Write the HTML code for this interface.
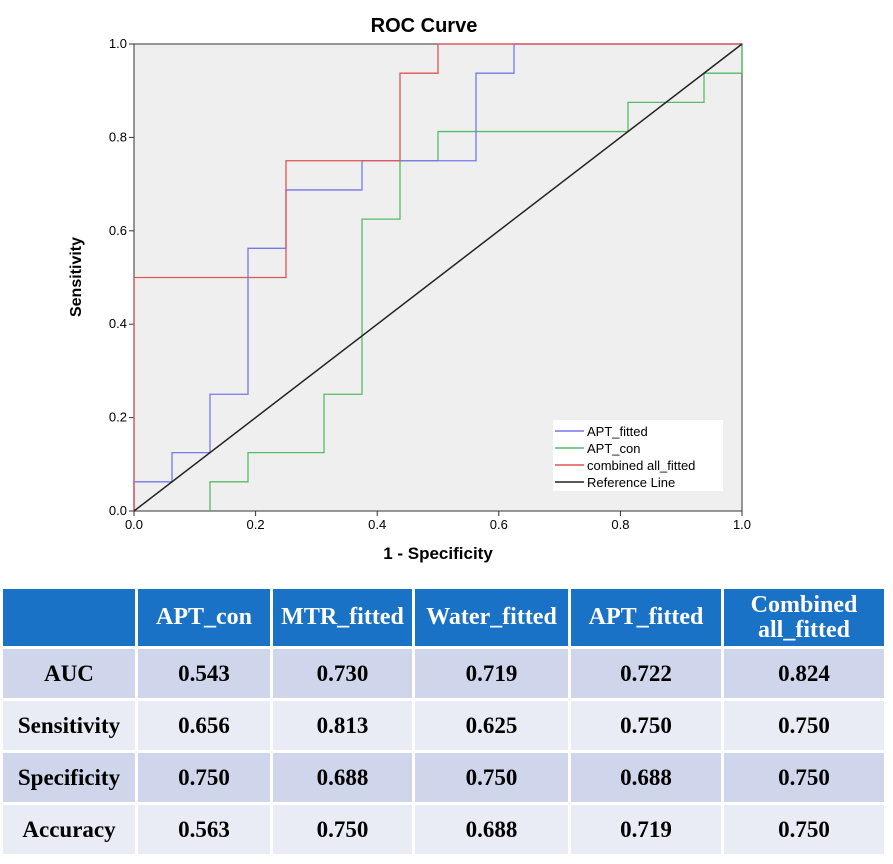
<!DOCTYPE html>
<html><head><meta charset="utf-8"><style>
body{margin:0;width:893px;height:864px;background:#fff;position:relative;overflow:hidden;font-family:"Liberation Sans",sans-serif}
svg{position:absolute;left:0;top:0}
table{position:absolute;left:0px;top:586px;border-collapse:separate;border-spacing:3px;font-family:"Liberation Serif",serif;font-weight:bold;font-size:23px;text-align:center}
td,th{padding:0}
th{background:#1a72c6;color:#fff;height:57px;line-height:25px;font-size:24px}
tr.o td{background:#cfd5ea}
tr.e td{background:#e9ebf5}
td{height:49px}
</style></head><body>
<svg width="893" height="580">
<text x="424" y="32" font-size="20" font-weight="bold" text-anchor="middle">ROC Curve</text>
<rect x="134" y="44" width="608" height="467" fill="#efefef" stroke="#555" stroke-width="1.2"/>
<g id="axes"></g>
<g id="series"></g>
<text x="438" y="559" font-size="17" font-weight="bold" text-anchor="middle">1 - Specificity</text>
<text transform="translate(81,277) rotate(-90)" font-size="16" font-weight="bold" text-anchor="middle">Sensitivity</text>
<g>
<rect x="553" y="420" width="170" height="71" fill="#fff"/>
<g id="legend"></g>
</g>
</svg>
<table>
<tr><th style="width:132px"></th><th style="width:132px">APT_con</th><th style="width:139px">MTR_fitted</th><th style="width:153px">Water_fitted</th><th style="width:150px">APT_fitted</th><th style="width:160px">Combined<br>all_fitted</th></tr>
<tr class="o"><td>AUC</td><td>0.543</td><td>0.730</td><td>0.719</td><td>0.722</td><td>0.824</td></tr>
<tr class="e"><td>Sensitivity</td><td>0.656</td><td>0.813</td><td>0.625</td><td>0.750</td><td>0.750</td></tr>
<tr class="o"><td>Specificity</td><td>0.750</td><td>0.688</td><td>0.750</td><td>0.688</td><td>0.750</td></tr>
<tr class="e"><td>Accuracy</td><td>0.563</td><td>0.750</td><td>0.688</td><td>0.719</td><td>0.750</td></tr>
</table>
<script>
const ticks=[0,0.2,0.4,0.6,0.8,1.0];
const seriesNames=["APT_fitted","APT_con","combined all_fitted","Reference Line"];
const seriesColors=["#7777ee","#55bb66","#e05555","#222"];
const aptFittedX=[0,0,0.0625,0.0625,0.125,0.125,0.1875,0.1875,0.25,0.25,0.375,0.375,0.5625,0.5625,0.625,0.625,1];
const aptFittedY=[0,0.0625,0.0625,0.125,0.125,0.25,0.25,0.5625,0.5625,0.6875,0.6875,0.75,0.75,0.9375,0.9375,1,1];
const aptConX=[0.125,0.125,0.1875,0.1875,0.3125,0.3125,0.375,0.375,0.4375,0.4375,0.5,0.5,0.8125,0.8125,0.9375,0.9375,1,1];
const aptConY=[0,0.0625,0.0625,0.125,0.125,0.25,0.25,0.625,0.625,0.75,0.75,0.8125,0.8125,0.875,0.875,0.9375,0.9375,1];
const combinedX=[0,0,0.25,0.25,0.4375,0.4375,0.5,0.5,1];
const combinedY=[0,0.5,0.5,0.75,0.75,0.9375,0.9375,1,1];
const refX=[0,1],refY=[0,1];
const X0=134,W=608,Y0=511,H=467;
const sx=v=>X0+v*W, sy=v=>Y0-v*H;
const NS="http://www.w3.org/2000/svg";
const ax=document.getElementById('axes');
ticks.forEach(t=>{
  let l=document.createElementNS(NS,'line');l.setAttribute('x1',X0-5);l.setAttribute('x2',X0);l.setAttribute('y1',sy(t));l.setAttribute('y2',sy(t));l.setAttribute('stroke','#333');
  
  ax.appendChild(l);
  let tx=document.createElementNS(NS,'text');tx.setAttribute('x',X0-7);tx.setAttribute('y',sy(t)+4);tx.setAttribute('font-size','13');tx.setAttribute('text-anchor','end');tx.textContent=t.toFixed(1);
  
  ax.appendChild(tx);
  let l2=document.createElementNS(NS,'line');l2.setAttribute('x1',sx(t));l2.setAttribute('x2',sx(t));l2.setAttribute('y1',Y0);l2.setAttribute('y2',Y0+5);l2.setAttribute('stroke','#333');
  
  ax.appendChild(l2);
  let t2=document.createElementNS(NS,'text');t2.setAttribute('x',sx(t));t2.setAttribute('y',Y0+18);t2.setAttribute('font-size','13');t2.setAttribute('text-anchor','middle');t2.textContent=t.toFixed(1);
  
  ax.appendChild(t2);
});
const sg=document.getElementById('series');
[[aptConX,aptConY,1],[aptFittedX,aptFittedY,0],[combinedX,combinedY,2],[refX,refY,3]].forEach(([xs,ys,i])=>{
  let p=document.createElementNS(NS,'polyline');
  p.setAttribute('points',xs.map((x,k)=>sx(x)+','+sy(ys[k])).join(' '));
  p.setAttribute('fill','none');p.setAttribute('stroke',seriesColors[i]);p.setAttribute('stroke-width',i==3?'1.5':'1.3');
  
  
  sg.appendChild(p);
});
const lg=document.getElementById('legend');
seriesNames.forEach((n,i)=>{
  let y=434+i*17;
  let l=document.createElementNS(NS,'line');l.setAttribute('x1',555);l.setAttribute('x2',584);l.setAttribute('y1',y-3);l.setAttribute('y2',y-3);l.setAttribute('stroke',seriesColors[i]);l.setAttribute('stroke-width','1.5');
  
  lg.appendChild(l);
  let t=document.createElementNS(NS,'text');t.setAttribute('x',587);t.setAttribute('y',y+2);t.setAttribute('font-size','13');t.textContent=n;
  
  lg.appendChild(t);
});
</script>
</body></html>
